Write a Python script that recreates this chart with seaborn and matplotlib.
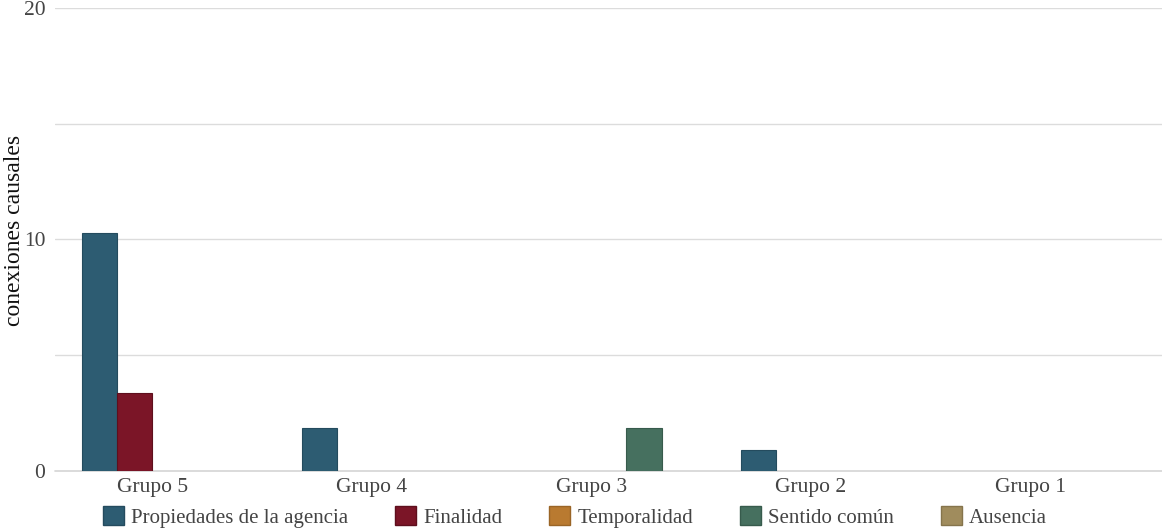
import matplotlib
matplotlib.use("Agg")
import matplotlib.pyplot as plt
from matplotlib.patches import Patch
import seaborn as sns
import pandas as pd

groups = ["Grupo 5", "Grupo 4", "Grupo 3", "Grupo 2", "Grupo 1"]
categories = ["Propiedades de la agencia", "Finalidad", "Temporalidad", "Sentido común", "Ausencia"]
propiedades = [10.27, 1.86, 0.0, 0.92, 0.0]
finalidad = [3.38, 0.0, 0.0, 0.0, 0.0]
temporalidad = [0.0, 0.0, 0.0, 0.0, 0.0]
sentido = [0.0, 0.0, 1.86, 0.0, 0.0]
colors = ["#2d5c72", "#7b1527", "#b97a30", "#46705f", "#a08c5d"]
edge_colors = ["#244b5e", "#5e0f1d", "#9a6526", "#375b4c", "#85744c"]

rows = []
for g, a, b, c, d in zip(groups, propiedades, finalidad, temporalidad, sentido):
    rows += [(g, categories[0], a), (g, categories[1], b), (g, categories[2], c), (g, categories[3], d)]
df = pd.DataFrame(rows, columns=["grupo", "tipo", "valor"])

sns.set_theme(style="white")
plt.rcParams["font.family"] = ["Liberation Serif", "DejaVu Serif"]

fig = plt.figure(figsize=(11.62, 5.30), dpi=100)
ax = fig.add_axes([55 / 1162, 59 / 530, (1162 - 55) / 1162, (471 - 8) / 530])

sns.barplot(data=df, x="grupo", y="valor", hue="tipo", order=groups,
            hue_order=categories[:4], palette=colors[:4], width=0.64,
            ax=ax, legend=False, linewidth=0.8, saturation=1)

hue_idx = {c: i for i, c in enumerate(categories[:4])}
for cont, cat in zip(ax.containers, categories[:4]):
    for p in cont:
        p.set_edgecolor(edge_colors[hue_idx[cat]])
        if p.get_height() == 0:
            p.set_visible(False)

ax.set_xlim(-0.444, 4.60)
ax.set_ylim(0, 20)
ax.set_yticks([0, 5, 10, 15, 20])
ax.set_yticklabels(["0", "", "10", "", "20"])
ax.grid(axis="y", color="#dcdcdc", linewidth=1)
ax.set_axisbelow(True)
ax.axhline(0, color="#d4d4d4", linewidth=1.2, zorder=0.5, clip_on=False)
for s in ax.spines.values():
    s.set_visible(False)
ax.tick_params(axis="both", length=0, labelsize=15.5, labelcolor="#444444")
ax.tick_params(axis="y", pad=7)
ax.tick_params(axis="x", pad=5)
ax.set_xlabel("")
ax.set_ylabel("")
fig.text(15 / 1162, 1 - 230 / 530, "conexiones causales", rotation=90, ha="center", va="center",
         fontsize=17, color="#111111")

handles = [Patch(facecolor=colors[i], edgecolor=edge_colors[i], label=categories[i]) for i in range(5)]
fig.legend(handles=handles, loc="center", bbox_to_anchor=(575 / 1162, 1 - 517 / 530), ncol=5,
           frameon=False, fontsize=15, handlelength=1.0, handleheight=1.0,
           handletextpad=0.35, columnspacing=2.25, labelcolor="#444444",
           borderpad=0, borderaxespad=0)

fig.savefig("out.png", dpi=100)
